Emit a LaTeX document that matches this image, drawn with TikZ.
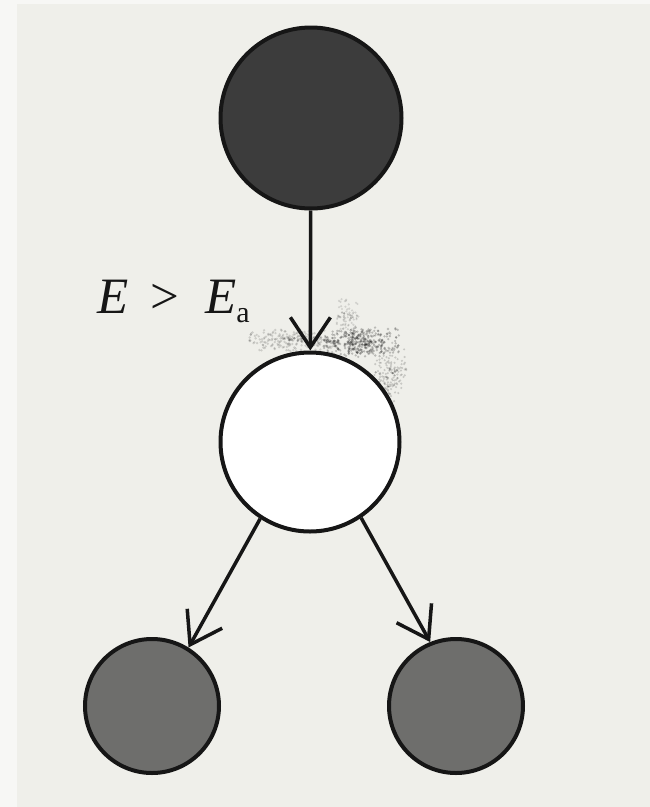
\documentclass[tikz,border=0pt]{standalone}
\usepackage{fontspec}
\setmainfont{Liberation Serif}
\usetikzlibrary{arrows.meta}
\definecolor{paper}{RGB}{239,239,234}
\definecolor{paperedge}{RGB}{247,247,245}
\definecolor{darkball}{RGB}{60,60,60}
\definecolor{midball}{RGB}{110,110,108}
\definecolor{ink}{RGB}{22,22,22}
\begin{document}
\begin{tikzpicture}[x=1pt,y=-1pt,
  ball/.style={circle,draw=ink,line width=4pt,inner sep=0pt},
  arr/.style={draw=ink,line width=3.5pt,-{Straight Barb[length=30pt,width=40pt]}},
  smudge/.style={fill=black,opacity=#1}]
\useasboundingbox (0,0) rectangle (650,807);
\fill[paperedge] (0,0) rectangle (650,807);
\fill[paper] (17,4) rectangle (650,807);
% grey smudge near the upper arrow tip
\pgfmathsetseed{11}
\foreach \i in {1,...,220}{\fill[smudge=0.14] ({292+26*(rand+rand)},{340+6*(rand+rand)}) circle (1.3);}
\foreach \i in {1,...,380}{\fill[smudge=0.22] ({360+22*(rand+rand)},{342+8*(rand+rand)}) circle (1.3);}
\foreach \i in {1,...,160}{\fill[smudge=0.16] ({390+9*(rand+rand)},{372+16*(rand+rand)}) circle (1.2);}
\foreach \i in {1,...,80}{\fill[smudge=0.12] ({347+7*(rand+rand)},{316+10*(rand+rand)}) circle (1.2);}
% balls
\node[ball,fill=darkball,minimum size=181pt] (top) at (311,118) {};
\node[ball,fill=white,minimum size=179pt] (mid) at (310,442) {};
\node[ball,fill=midball,minimum size=134pt] (bl) at (152,706) {};
\node[ball,fill=midball,minimum size=134pt] (br) at (456,706) {};
% label
\node[anchor=base west,inner sep=0pt,text=ink,font=\fontsize{51}{60}\selectfont] (lbl) at (97,313)
  {\textit{E}\hspace{22pt}>\hspace{26pt}\textit{E}\raisebox{-9pt}{\fontsize{30}{30}\selectfont a}};
% arrows
\draw[arr] (top) -- (mid);
\draw[arr] (mid.-123) -- (bl.58);
\draw[arr] (mid.-56) -- (br.112);
\end{tikzpicture}
\end{document}
